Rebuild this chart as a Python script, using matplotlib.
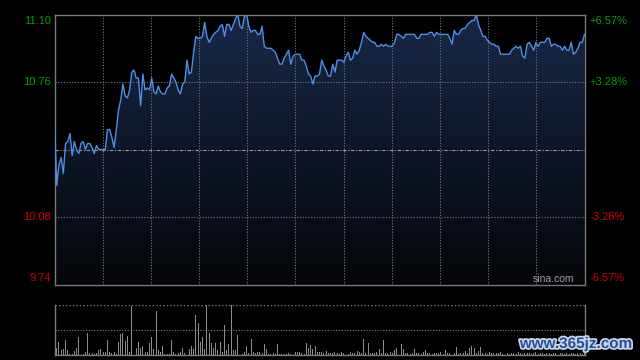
import numpy as np
import matplotlib
matplotlib.use("Agg")
import matplotlib.pyplot as plt
import matplotlib.patheffects as pe

# ---------------- data ----------------
prev_close = 10.42
price_ticks = [9.74, 10.08, 10.76, 11.10]
price_labels = ["9.74", "10.08", "10.76", "11.10"]
pct_labels = ["-6.57%", "-3.28%", "+3.28%", "+6.57%"]

prices = [
    10.58, 10.24, 10.34, 10.38, 10.30, 10.45, 10.46, 10.50, 10.39, 10.46,
    10.42, 10.40, 10.45, 10.46, 10.42, 10.45, 10.45, 10.43, 10.40, 10.44,
    10.42, 10.42, 10.42, 10.42, 10.52, 10.52, 10.48, 10.43, 10.52, 10.62,
    10.67, 10.75, 10.69, 10.68, 10.72, 10.81, 10.82, 10.78, 10.78, 10.64,
    10.80, 10.72, 10.73, 10.72, 10.78, 10.71, 10.70, 10.74, 10.71, 10.70,
    10.70, 10.73, 10.74, 10.80, 10.78, 10.76, 10.72, 10.70, 10.75, 10.76,
    10.87, 10.80, 10.81, 10.91, 10.99, 10.98, 10.98, 10.99, 11.06, 10.99,
    10.96, 10.98, 11.00, 11.01, 11.02, 11.04, 11.05, 10.99, 11.05, 11.05,
    11.02, 11.05, 11.08, 11.10, 11.04, 11.03, 11.09, 11.10, 11.04, 11.01,
    11.02, 11.02, 11.00, 11.00, 11.04, 10.94, 10.93, 10.93, 10.93, 10.92,
    10.91, 10.88, 10.85, 10.85, 10.88, 10.90, 10.92, 10.85, 10.89, 10.90,
    10.90, 10.90, 10.87, 10.87, 10.84, 10.80, 10.79, 10.75, 10.79, 10.79,
    10.80, 10.87, 10.84, 10.82, 10.79, 10.79, 10.85, 10.81, 10.87, 10.87,
    10.87, 10.86, 10.89, 10.91, 10.87, 10.88, 10.92, 10.90, 10.92, 10.96,
    11.01, 10.99, 10.98, 10.97, 10.96, 10.96, 10.94, 10.94, 10.95, 10.94,
    10.95, 10.94, 10.94, 10.94, 10.96, 11.00, 11.00, 10.99, 10.98, 11.00,
    11.00, 11.00, 11.00, 11.00, 10.98, 10.98, 11.00, 11.00, 11.00, 11.00,
    11.01, 11.01, 10.99, 11.01, 11.00, 11.00, 11.00, 11.00, 11.00, 10.98,
    10.95, 11.02, 11.00, 11.00, 11.02, 11.03, 11.03, 11.05, 11.06, 11.07,
    11.07, 11.10, 11.05, 11.02, 10.99, 10.99, 10.97, 10.96, 10.95, 10.95,
    10.94, 10.94, 10.90, 10.90, 10.90, 10.90, 10.90, 10.92, 10.93, 10.94,
    10.93, 10.94, 10.89, 10.88, 10.95, 10.96, 10.94, 10.92, 10.96, 10.94,
    10.96, 10.96, 10.96, 10.98, 10.98, 10.94, 10.95, 10.95, 10.94, 10.94,
    10.92, 10.94, 10.92, 10.92, 10.96, 10.90, 10.91, 10.93, 10.96, 10.96,
    11.00,
]

volumes = [
    28, 18, 36, 13, 16, 43, 13, 1, 2, 10,
    20, 52, 3, 1, 8, 63, 3, 3, 2, 3,
    13, 16, 6, 6, 43, 6, 3, 6, 2, 36,
    60, 63, 40, 56, 8, 143, 82, 20, 38, 18,
    25, 8, 6, 35, 53, 16, 128, 13, 6, 26,
    2, 2, 2, 43, 6, 2, 3, 6, 20, 3,
    113, 16, 26, 16, 116, 92, 38, 53, 16, 148,
    63, 33, 18, 33, 13, 38, 6, 88, 13, 30,
    148, 13, 13, 58, 13, 2, 8, 26, 3, 46,
    6, 3, 8, 6, 3, 30, 16, 2, 2, 3,
    2, 30, 2, 2, 2, 2, 3, 1, 3, 6,
    6, 6, 3, 2, 33, 20, 28, 16, 26, 8,
    6, 8, 3, 10, 5, 3, 3, 6, 3, 2,
    8, 5, 3, 2, 6, 3, 5, 10, 6, 3,
    45, 5, 35, 3, 5, 3, 6, 15, 3, 43,
    5, 3, 6, 3, 13, 20, 13, 30, 15, 5,
    3, 2, 5, 15, 3, 5, 2, 6, 13, 5,
    3, 2, 3, 5, 3, 6, 2, 13, 3, 5,
    2, 3, 21, 2, 3, 5, 10, 3, 18, 25,
    20, 5, 10, 23, 3, 5, 2, 8, 3, 3,
    5, 3, 6, 2, 4, 3, 2, 5, 3, 2,
    6, 3, 2, 4, 3, 5, 2, 3, 6, 2,
    3, 5, 2, 3, 4, 2, 3, 5, 2, 3,
    4, 2, 3, 2, 5, 3, 2, 3, 4, 2,
    3,
]

# ---------------- styling ----------------
plt.rcParams['font.family'] = ['Liberation Sans', 'DejaVu Sans']
BG = "#000000"
GRID = "#7a7a7a"
SPINE = "#7a7a7a"
LINE = "#4f8ee8"
GREEN = "#0a9a0a"
RED = "#d00000"

fig = plt.figure(figsize=(6.4, 3.6), dpi=100, facecolor=BG)
W, H = 640.0, 360.0

t = np.arange(len(prices))
p = np.array(prices)
xmax = len(prices) - 1

# ---------------- price axes ----------------
ax = fig.add_axes([54.5 / W, 1 - 284.5 / H, 530 / W, 270 / H])
ax.set_facecolor(BG)
ax.set_xlim(0, xmax)
ax.set_ylim(price_ticks[0], price_ticks[-1])

# gradient fill under line
top_c = np.array([24, 40, 72]) / 255.0
bot_c = np.array([4, 6, 9]) / 255.0
n = 256
grad = np.linspace(0, 1, n)[:, None]
img = top_c[None, None, :] * (1 - grad[:, :, None]) + bot_c[None, None, :] * grad[:, :, None]
img = np.repeat(img, 2, axis=1)
poly = ax.fill_between(t, p, price_ticks[0], color="none", lw=0)
im = ax.imshow(img, extent=[0, xmax, price_ticks[0], price_ticks[-1]],
               aspect="auto", origin="upper", zorder=1)
clip = poly.get_paths()[0]
im.set_clip_path(clip, transform=ax.transData)

# grid
for k in range(1, 11):
    ax.axvline(xmax * k / 11.0, color=GRID, lw=0.8, ls=(0, (1, 1.5)), zorder=2)
for yv in [price_ticks[1], price_ticks[2]]:
    ax.axhline(yv, color=GRID, lw=0.8, ls=(0, (1, 1.5)), zorder=2)
ax.axhline(prev_close, color="#9a9a9a", lw=0.8, ls=(0, (3, 1.5, 1, 1.5)), zorder=2)

ax.plot(t, p, color=LINE, lw=1.0, zorder=3)

for s in ax.spines.values():
    s.set_color(SPINE)
    s.set_linewidth(1.0)
ax.set_xticks([])
ax.set_yticks([])

# tick labels (placed manually like the original)
def px2y(py):
    return 1 - py / H

left_pos = [278, 217, 82, 21]
cols = [RED, RED, GREEN, GREEN]
for lab, pct, py, c in zip(price_labels, pct_labels, left_pos, cols):
    fig.text(51 / W, px2y(py), lab, color=c, fontsize=8, ha="right", va="center")
    fig.text(589 / W, px2y(py), pct, color=c, fontsize=8, ha="left", va="center")

fig.text(574 / W, px2y(279), "sina.com", color="#a0a0a0", fontsize=7.5,
         ha="right", va="center")

# ---------------- volume axes ----------------
axv = fig.add_axes([54.5 / W, 1 - 354.5 / H, 530 / W, 50 / H])
axv.set_facecolor(BG)
axv.set_xlim(0, xmax)
vmax = 148
axv.set_ylim(0, vmax)
axv.bar(t, volumes, width=0.45, color="#8c8c8c", lw=0, zorder=3)
axv.axhline(vmax / 2, color=GRID, lw=0.8, ls=(0, (1, 1.5)), zorder=2)
axv.axhline(vmax, color=GRID, lw=1.0, ls=(0, (1, 1.5)), zorder=2)
axv.spines['top'].set_visible(False)
for side in ['left', 'right', 'bottom']:
    axv.spines[side].set_color(SPINE)
    axv.spines[side].set_linewidth(1.0)
axv.set_xticks([])
axv.set_yticks([])

# watermark
fig.text(576 / W, px2y(344), "www.365jz.com", color="#27509c", fontsize=11,
         fontweight="bold", ha="center", va="center",
         path_effects=[pe.withStroke(linewidth=2.5, foreground="#c8d4e8")])

fig.savefig("out.png", dpi=100, facecolor=BG)
